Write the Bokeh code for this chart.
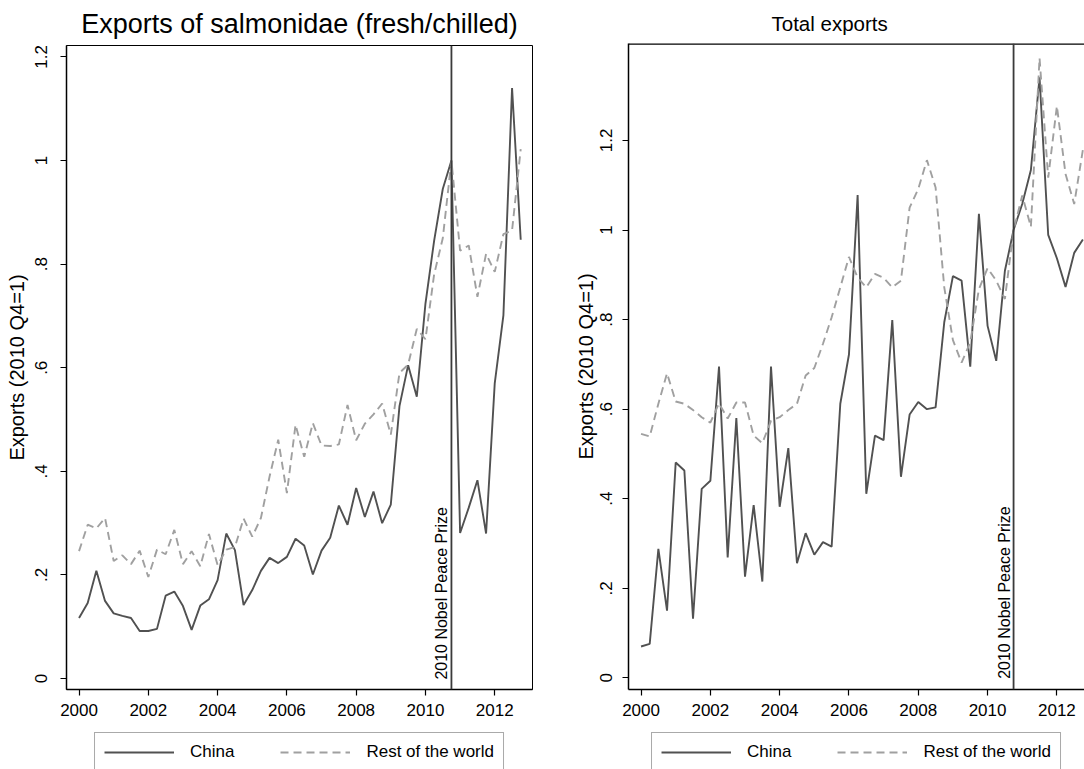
from bokeh.plotting import figure
from bokeh.models import FixedTicker, Span, Label, Legend, LegendItem, Range1d
from bokeh.layouts import row, column
from bokeh.embed import file_html
from bokeh.resources import INLINE

# quarterly time axis 2000q1 .. 2012q4
quarter = [y + q / 4 for y in range(2000, 2013) for q in range(4)]

salmon_china = [0.117, 0.146, 0.208, 0.150, 0.126, 0.121, 0.117, 0.092, 0.092, 0.096,
                0.160, 0.168, 0.140, 0.094, 0.141, 0.153, 0.190, 0.280, 0.248, 0.142,
                0.171, 0.208, 0.233, 0.223, 0.235, 0.270, 0.257, 0.201, 0.247, 0.272,
                0.334, 0.297, 0.368, 0.312, 0.361, 0.300, 0.336, 0.526, 0.605, 0.544,
                0.724, 0.845, 0.945, 1.000, 0.281, 0.330, 0.383, 0.280, 0.570, 0.701,
                1.140, 0.847]
salmon_row = [0.246, 0.297, 0.290, 0.310, 0.227, 0.238, 0.221, 0.247, 0.196, 0.249,
              0.240, 0.287, 0.221, 0.246, 0.217, 0.279, 0.219, 0.249, 0.254, 0.309,
              0.274, 0.310, 0.390, 0.461, 0.358, 0.490, 0.428, 0.493, 0.450, 0.449,
              0.452, 0.528, 0.460, 0.492, 0.510, 0.531, 0.471, 0.590, 0.606, 0.675,
              0.655, 0.780, 0.850, 1.000, 0.826, 0.836, 0.737, 0.820, 0.785, 0.858,
              0.865, 1.022]
total_china = [0.070, 0.076, 0.288, 0.150, 0.481, 0.463, 0.132, 0.422, 0.440, 0.695,
               0.269, 0.580, 0.226, 0.386, 0.215, 0.695, 0.382, 0.513, 0.256, 0.323,
               0.275, 0.303, 0.293, 0.612, 0.722, 1.078, 0.411, 0.541, 0.531, 0.799,
               0.449, 0.588, 0.616, 0.600, 0.604, 0.794, 0.897, 0.887, 0.695, 1.036,
               0.786, 0.708, 0.909, 1.000, 1.058, 1.134, 1.341, 0.989, 0.937, 0.873,
               0.949, 0.979]
total_row = [0.545, 0.539, 0.612, 0.680, 0.617, 0.612, 0.598, 0.582, 0.570, 0.613,
             0.579, 0.615, 0.615, 0.541, 0.524, 0.574, 0.582, 0.598, 0.612, 0.675,
             0.692, 0.746, 0.805, 0.872, 0.940, 0.894, 0.872, 0.902, 0.893, 0.872,
             0.887, 1.050, 1.092, 1.156, 1.095, 0.872, 0.754, 0.704, 0.749, 0.868,
             0.915, 0.887, 0.846, 1.000, 1.077, 1.007, 1.384, 1.117, 1.277, 1.125,
             1.058, 1.179]

x_ticks = [2000, 2002, 2004, 2006, 2008, 2010, 2012]
y_ticks_salmon = [0, 0.2, 0.4, 0.6, 0.8, 1.0, 1.2]
y_ticks_total = [0, 0.2, 0.4, 0.6, 0.8, 1.0, 1.2]
y_tick_labels = ["0", ".2", ".4", ".6", ".8", "1", "1.2"]
series_labels = ["China", "Rest of the world"]
event_year = 2010.75
event_label = "2010 Nobel Peace Prize"
y_title = "Exports (2010 Q4=1)"

FONT = "Liberation Sans"
CHINA_COLOR = "#515151"
ROW_COLOR = "#a0a0a0"
CHINA_STYLE = dict(line_color=CHINA_COLOR, line_width=1.9)
ROW_STYLE = dict(line_color=ROW_COLOR, line_width=1.9, line_dash="8 5")


def panel(title, title_size, title_align, title_offset, title_standoff,
          china, rest, x_end, y_start, y_end, y_ticks, width, border_left,
          border_right, outline, label_standoff, title_gap):
    p = figure(width=width, height=725,
               x_range=Range1d(1999.638, x_end), y_range=Range1d(y_start, y_end),
               output_backend="svg", toolbar_location=None,
               min_border_left=border_left, min_border_right=border_right,
               min_border_top=43, min_border_bottom=36)
    p.background_fill_color = "white"
    p.border_fill_color = "white"
    p.xgrid.visible = False
    p.ygrid.visible = False
    if outline:
        p.outline_line_color = "black"
        p.outline_line_width = 1
        p.outline_line_alpha = 1
    else:
        p.outline_line_color = None
        p.add_layout(Span(location=y_end, dimension="width",
                          line_color="black", line_width=2.5))

    p.title.text = title
    p.title.text_font = FONT
    p.title.text_font_size = title_size
    p.title.text_font_style = "normal"
    p.title.text_color = "black"
    p.title.align = title_align
    p.title.offset = title_offset
    p.title.standoff = title_standoff

    p.line(quarter, china, **CHINA_STYLE)
    p.line(quarter, rest, **ROW_STYLE)

    p.add_layout(Span(location=event_year, dimension="height",
                      line_color="#3a3a3a", line_width=1.8))
    p.add_layout(Label(x=event_year, y=0, text=event_label, angle=90,
                       angle_units="deg", text_align="left",
                       text_baseline="bottom", x_offset=-1, y_offset=-1,
                       text_font=FONT, text_font_size="16px",
                       text_color="black"))

    xa = p.xaxis[0]
    xa.ticker = FixedTicker(ticks=x_ticks)
    xa.minor_tick_line_color = None
    xa.major_tick_out = 6
    xa.major_tick_in = 0
    xa.major_label_standoff = 8
    xa.major_label_text_font = FONT
    xa.major_label_text_font_size = "17px"
    xa.major_label_text_color = "black"
    xa.axis_line_color = "black"
    xa.axis_line_width = 1.5
    xa.major_tick_line_color = "black"
    xa.major_tick_line_width = 1.2

    ya = p.yaxis[0]
    ya.ticker = FixedTicker(ticks=y_ticks)
    ya.major_label_overrides = {t: s for t, s in zip(y_ticks, y_tick_labels)}
    ya.major_label_orientation = "vertical"
    ya.minor_tick_line_color = None
    ya.major_tick_out = 6
    ya.major_tick_in = 0
    ya.major_label_standoff = label_standoff
    ya.major_label_text_font = FONT
    ya.major_label_text_font_size = "17px"
    ya.major_label_text_color = "black"
    ya.axis_line_color = "black"
    ya.axis_line_width = 1.5
    ya.major_tick_line_color = "black"
    ya.major_tick_line_width = 1.2
    ya.axis_label = y_title
    ya.axis_label_text_font = FONT
    ya.axis_label_text_font_size = "20px"
    ya.axis_label_text_font_style = "normal"
    ya.axis_label_text_color = "black"
    ya.axis_label_standoff = title_gap
    return p


def legend_strip(china, rest, width, border_left, border_right):
    # a strip under each panel that carries its legend; the box runs off the
    # bottom edge like in the reference
    q = figure(width=width, height=44, x_range=Range1d(0, 1),
               y_range=Range1d(0, 1), output_backend="svg",
               toolbar_location=None, x_axis_location=None,
               y_axis_location=None, min_border_left=border_left,
               min_border_right=border_right, min_border_top=0,
               min_border_bottom=0)
    q.outline_line_color = None
    q.xgrid.visible = False
    q.ygrid.visible = False
    q.background_fill_color = "white"
    q.border_fill_color = "white"
    r1 = q.line(quarter, china, visible=False, **CHINA_STYLE)
    r2 = q.line(quarter, rest, visible=False, **ROW_STYLE)
    legend = Legend(items=[LegendItem(label=series_labels[0], renderers=[r1]),
                           LegendItem(label=series_labels[1], renderers=[r2])],
                    orientation="horizontal", location="top_center",
                    border_line_color="#555555", border_line_width=1.2,
                    background_fill_color="white", background_fill_alpha=1,
                    inactive_fill_alpha=0, padding=9, spacing=46,
                    glyph_width=70, glyph_height=20, label_standoff=16,
                    label_text_font=FONT, label_text_font_size="17px",
                    label_text_color="black", margin=7)
    q.add_layout(legend, "center")
    return q


left = panel("Exports of salmonidae (fresh/chilled)", "27px", "center", 0, 13,
             salmon_china, salmon_row, 2013.09, -0.021, 1.222, y_ticks_salmon,
             570, 66, 38, True, 13, 5)
right = panel("Total exports", "20.5px", "left", 143, 17,
              total_china, total_row, 2012.797, -0.026, 1.4165, y_ticks_total,
              514, 58, 0, False, 10, 1)
left_leg = legend_strip(salmon_china, salmon_row, 570, 66, 38)
right_leg = legend_strip(total_china, total_row, 514, 58, 0)

layout = row(column(left, left_leg), column(right, right_leg))
open("out.html", "w").write(file_html(layout, INLINE))
